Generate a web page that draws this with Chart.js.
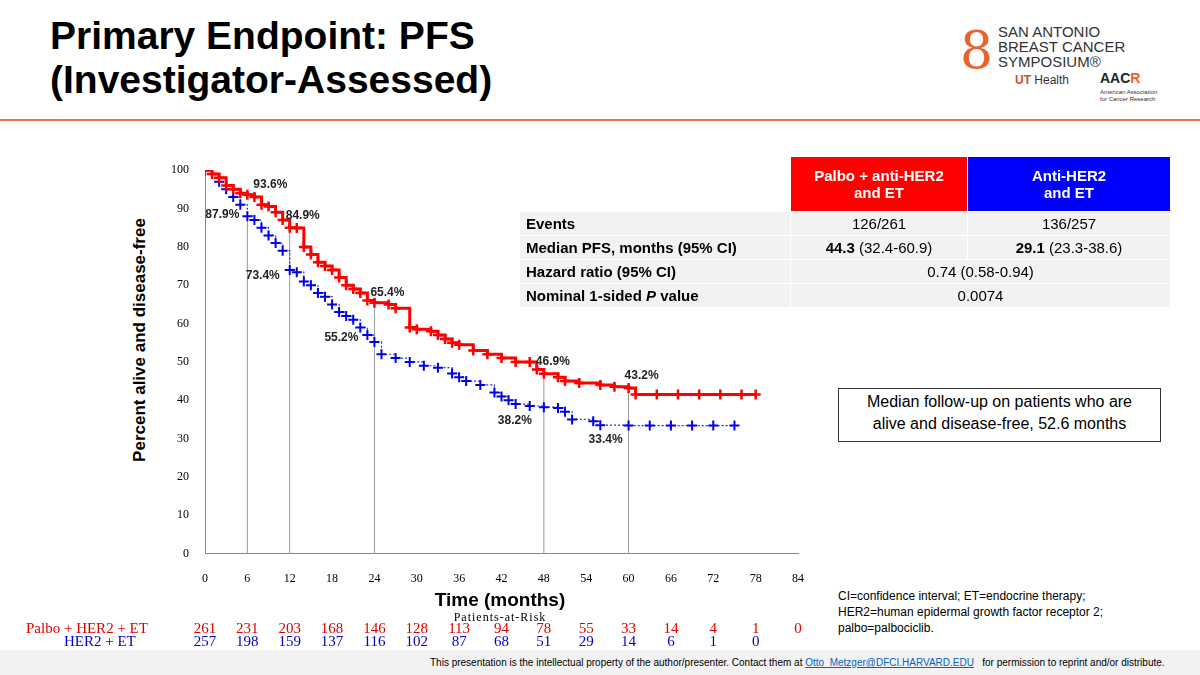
<!DOCTYPE html>
<html><head><meta charset="utf-8">
<script src="https://cdn.jsdelivr.net/npm/chart.js@4"></script>
<style>
body{margin:0;width:1200px;height:675px;position:relative;background:#fff;font-family:Arial,"Liberation Sans",sans-serif;overflow:hidden}
.a{position:absolute}
h1{position:absolute;left:50px;top:14px;margin:0;font-size:39px;line-height:44px;font-weight:bold;color:#000}
table{border-collapse:collapse;font-size:15px}
td{padding:0 6px;height:23px;border:1px solid #fff;background:#f2f2f2}
</style></head><body>
<h1>Primary Endpoint: PFS<br>(Investigator-Assessed)</h1>
<div class="a" style="left:0;top:119px;width:1200px;height:2px;background:#e8734a"></div>
<div class="a" style="left:960px;top:14px;width:200px;height:100px;font-size:13px;line-height:13px">
 <div class="a" style="left:0;top:6px;font-size:52px;line-height:60px;color:#e8642c;font-family:'DejaVu Serif'">8</div>
 <div class="a" style="left:38px;top:10px;font-size:15px;line-height:15px;color:#333">SAN ANTONIO<br>BREAST CANCER<br>SYMPOSIUM®</div>
 <div class="a" style="left:55px;top:60px;font-size:12px;color:#333"><b style="color:#c8512c">UT</b> Health</div>
 <div class="a" style="left:140px;top:58px;font-size:14px;font-weight:bold;color:#222">AAC<span style="color:#e8642c">R</span></div>
 <div class="a" style="left:140px;top:75px;font-size:6px;line-height:7px;color:#333">American Association<br>for Cancer Research</div>
</div>
<div class="a" style="left:150px;top:155px;width:670px;height:441px"><canvas id="c" width="670" height="441"></canvas></div>
<div class="a" style="left:-50px;top:330px;width:380px;transform:rotate(-90deg);font-weight:bold;font-size:17px;text-align:center;white-space:nowrap">Percent alive and disease-free</div>
<div class="a" style="left:400px;top:589px;width:200px;text-align:center;font-weight:bold;font-size:19px">Time (months)</div>
<div class="a" style="left:400px;top:610px;width:200px;text-align:center;font-family:'Liberation Serif';font-size:12px;letter-spacing:1px">Patients-at-Risk</div>
<div class="a" id="riskR" style="left:0;top:620px;width:820px;height:14px;font-family:'Liberation Serif';font-size:15px;color:#e00000"></div>
<div class="a" id="riskB" style="left:0;top:633px;width:820px;height:14px;font-family:'Liberation Serif';font-size:15px;color:#0000d0"></div>
<table class="a" style="left:519px;top:156px;width:652px">
<tr><td style="background:#fff;height:54px"></td><td style="background:#ff0000;color:#fff;font-weight:bold;text-align:center;width:164px">Palbo + anti-HER2<br>and ET</td><td style="background:#0000ff;color:#fff;font-weight:bold;text-align:center;width:190px">Anti-HER2<br>and ET</td></tr>
<tr><td style="font-weight:bold">Events</td><td style="text-align:center">126/261</td><td style="text-align:center">136/257</td></tr>
<tr><td style="font-weight:bold">Median PFS, months (95% CI)</td><td style="text-align:center"><b>44.3</b> (32.4-60.9)</td><td style="text-align:center"><b>29.1</b> (23.3-38.6)</td></tr>
<tr><td style="font-weight:bold">Hazard ratio (95% CI)</td><td colspan="2" style="text-align:center">0.74 (0.58-0.94)</td></tr>
<tr><td style="font-weight:bold">Nominal 1-sided <i>P</i> value</td><td colspan="2" style="text-align:center">0.0074</td></tr>
</table>
<div class="a" style="left:838px;top:388px;width:321px;height:50px;border:1px solid #333;text-align:center;font-size:16px;line-height:22px;padding-top:2px">Median follow-up on patients who are<br>alive and disease-free, 52.6 months</div>
<div class="a" style="left:838px;top:588px;font-size:12px;line-height:16px">CI=confidence interval; ET=endocrine therapy;<br>HER2=human epidermal growth factor receptor 2;<br>palbo=palbociclib.</div>
<div class="a" style="left:0;top:650px;width:1200px;height:25px;background:#f2f2f2"></div>
<div class="a" style="left:430px;top:657px;font-size:10px">This presentation is the intellectual property of the author/presenter. Contact them at <u style="color:#0563c1">Otto_Metzger@DFCI.HARVARD.EDU</u> &nbsp; for permission to reprint and/or distribute.</div>
<script>
const redT=[0,1,2,3,4,5,6,7,8,9,10,11,12,13,14,15,16,17,18,19,20,21,22,23,24,26,27,29,30,32,33,34,35,36,38,40,42,44,46,47,48,50,51,53,56,58,60,61,64,67,70,73,76,78];
const redS=[100,99,98,96,95,94,93.6,93,91,90.5,89,87,85,84.9,80,78,76,75,74,72,70,69,68,66,65.4,65,64,59,58.5,58,57,56,55,54.5,53,52,51,50,50,48,46.9,46,45,44.5,44,43.5,43.2,41.5,41.5,41.5,41.5,41.5,41.5,41.5];
const blueT=[0,1,2,3,4,5,6,7,8,9,10,11,12,13,14,15,16,17,18,19,20,21,22,23,24,25,27,29,31,33,35,36,37,39,41,42,43,44,46,48,50,51,52,55,56,60,63,66,69,72,75];
const blueS=[100,99,97,95,93,91,88,87,85,83,81,79,74,73.4,71,70,68,67,65,63,62,61,59,57,55.2,52,51,50,49,48.5,47,46,45,44,42,41,40,39,38.5,38.2,38,37,35,34.5,33.5,33.4,33.4,33.4,33.4,33.4,33.4];
const xTicks=[0,6,12,18,24,30,36,42,48,54,60,66,72,78,84];
const riskRed=[261,231,203,168,146,128,113,94,78,55,33,14,4,1,0];
const riskBlue=[257,198,159,137,116,102,87,68,51,29,14,6,1,0];
const marks=[{t:6,v:93.6,l:'93.6%',dx:6,dy:-10},{t:6,v:87.9,l:'87.9%',dx:-42,dy:-2},{t:12,v:84.9,l:'84.9%',dx:-4,dy:-12},{t:12,v:73.4,l:'73.4%',dx:-44,dy:4},{t:24,v:65.4,l:'65.4%',dx:-4,dy:-10},{t:24,v:55.2,l:'55.2%',dx:-50,dy:-4},{t:48,v:46.9,l:'46.9%',dx:-8,dy:-12},{t:48,v:38.2,l:'38.2%',dx:-46,dy:14},{t:60,v:43.2,l:'43.2%',dx:-4,dy:-12},{t:60,v:33.4,l:'33.4%',dx:-40,dy:14}];
const pts=(t,s)=>t.map((x,i)=>({x,y:s[i]}));
const ann={id:'ann',beforeDatasetsDraw(c){const x=c.scales.x,y=c.scales.y,g=c.ctx;g.save();g.strokeStyle='#999';g.lineWidth=1;
 [[6,88],[12,85],[24,66],[48,47],[60,43]].forEach(([t,v])=>{g.beginPath();g.moveTo(x.getPixelForValue(t),y.getPixelForValue(0));g.lineTo(x.getPixelForValue(t),y.getPixelForValue(v));g.stroke();});g.restore();},
 afterDatasetsDraw(c){const x=c.scales.x,y=c.scales.y,g=c.ctx;g.save();g.font='bold 12px Arial';g.fillStyle='#222';g.textBaseline='middle';
 marks.forEach(m=>g.fillText(m.l,x.getPixelForValue(m.t)+m.dx,y.getPixelForValue(m.v)+m.dy));g.restore();
 const put=(id,arr)=>{const el=document.getElementById(id);arr.forEach((n,i)=>{const d=document.createElement('div');d.className='a';d.style.left=(150+x.getPixelForValue(xTicks[i])-20)+'px';d.style.width='40px';d.style.textAlign='center';d.textContent=n;el.appendChild(d);});};
 if(!c._done){c._done=1;put('riskR',riskRed);put('riskB',riskBlue);
 const lab=document.createElement('div');lab.className='a';lab.style.cssText='left:26px;top:620px;font-family:Liberation Serif;font-size:15px;color:#e00000';lab.textContent='Palbo + HER2 + ET';document.body.appendChild(lab);
 const lb=document.createElement('div');lb.className='a';lb.style.cssText='left:64px;top:633px;font-family:Liberation Serif;font-size:15px;color:#0000d0';lb.textContent='HER2 + ET';document.body.appendChild(lb);}}};
new Chart(document.getElementById('c'),{type:'line',data:{datasets:[
 {data:pts(redT,redS),stepped:'before',borderColor:'#ff0000',borderWidth:3,pointStyle:'cross',pointRadius:5,pointBorderWidth:2.5,pointBorderColor:'#ff0000'},
 {data:pts(blueT,blueS),stepped:'before',borderColor:'#2233dd',borderWidth:1.2,borderDash:[2,2],pointStyle:'cross',pointRadius:5,pointBorderWidth:2,pointBorderColor:'#0000ee'}]},
 options:{responsive:false,animation:false,layout:{padding:{left:13,right:22,top:8,bottom:0}},plugins:{legend:{display:false},tooltip:{enabled:false}},
 scales:{x:{type:'linear',min:0,max:84,afterBuildTicks:a=>{a.ticks=xTicks.map(v=>({value:v}))},grid:{display:false},border:{color:'#888'},ticks:{color:'#000',font:{family:'Liberation Serif',size:12},padding:10}},
 y:{min:0,max:100,ticks:{stepSize:10,color:'#000',font:{family:'Liberation Serif',size:12},padding:8},grid:{display:false},border:{color:'#888'}}}},plugins:[ann]});
</script>
</body></html>
